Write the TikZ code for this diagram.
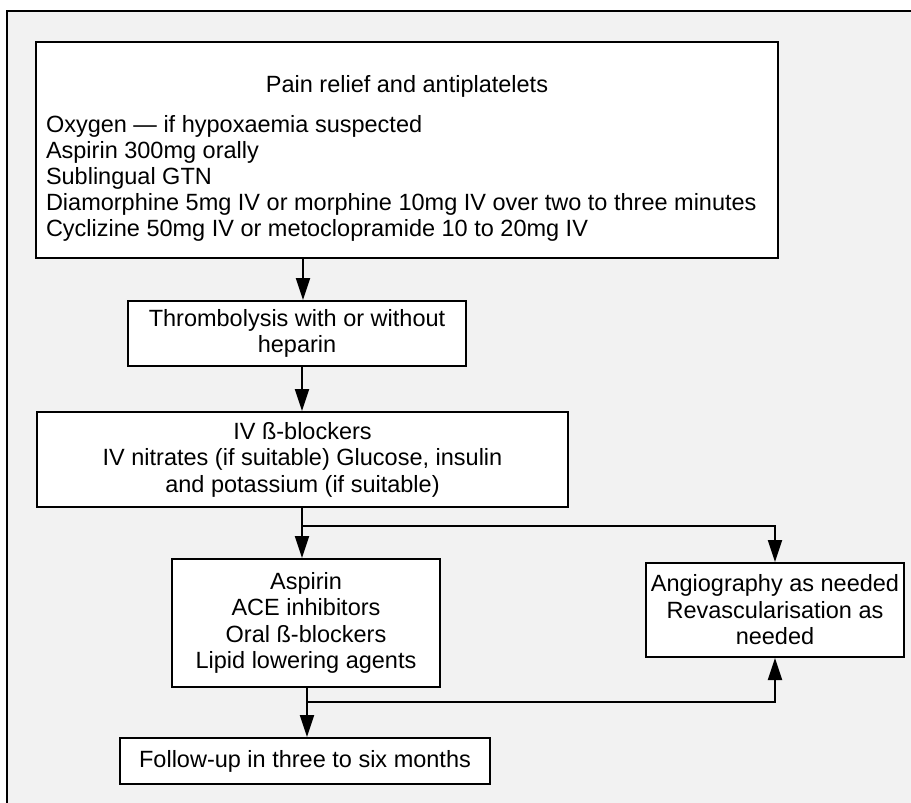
\documentclass[tikz,border=0pt]{standalone}
\usepackage{fontspec}
\setmainfont{Liberation Sans}
\usetikzlibrary{arrows.meta}
\definecolor{bggray}{HTML}{F2F2F2}
\begin{document}
\begin{tikzpicture}[x=1pt,y=-1pt,
  box/.style={draw=black, line width=2pt, fill=white, inner sep=0pt, align=center,
    font=\fontsize{23.5}{26.5}\selectfont},
  bigbox/.style={draw=black, line width=2pt, fill=white, inner sep=0pt,
    font=\fontsize{23.5}{26.5}\selectfont},
  arr/.style={draw=black, line width=2.2pt, -{Triangle[length=22pt,width=14pt]}}]
\useasboundingbox (0,0) rectangle (911,803);
\clip (0,0) rectangle (911,803);
\fill[white] (0,0) rectangle (911,803);
\draw[line width=2.5pt, fill=bggray] (7,11) rectangle (930,830);

\node[bigbox, minimum width=742, minimum height=216] (b1) at (407,150)
 {\parbox{722pt}{\parindent0pt\parskip0pt\baselineskip26pt
  \vspace*{16pt}
  \centering Pain relief and antiplatelets\par\vspace{14pt}
  \raggedright Oxygen — if hypoxaemia suspected\par
  Aspirin 300mg orally\par
  Sublingual GTN\par
  \mbox{Diamorphine 5mg IV or morphine 10mg IV over two to three minutes}\par
  Cyclizine 50mg IV or metoclopramide 10 to 20mg IV\par}};
\node[box, minimum width=338, minimum height=65] (b2) at (297,333.5)
 {Thrombolysis with or without\\heparin};
\node[box, minimum width=531, minimum height=95] (b3) at (302.5,459.5)
 {IV ß-blockers\\IV nitrates (if suitable) Glucose, insulin\\and potassium (if suitable)};
\node[box, minimum width=268, minimum height=128] (b4) at (306,623)
 {Aspirin\\ACE inhibitors\\Oral ß-blockers\\Lipid lowering agents};
\node[box, minimum width=258, minimum height=94] (b5) at (775,610)
 {Angiography as needed\\Revascularisation as\\needed};
\node[box, minimum width=370, minimum height=46] (b6) at (305,761)
 {Follow-up in three to six months};

\coordinate (x1) at (303,0);
\coordinate (x2) at (302,0);
\coordinate (x3) at (307,0);
\coordinate (j1) at (302,526);
\coordinate (j2) at (307,702);

\draw[arr] (b1.south -| x1) -- (b2.north -| x1);
\draw[arr] (b2.south -| x2) -- (b3.north -| x2);
\draw[arr] (b3.south -| x2) -- (b4.north -| x2);
\draw[arr] (j1) -| (b5.north);
\draw[arr] (b4.south -| x3) -- (b6.north -| x3);
\draw[arr] (j2) -| (b5.south);
\end{tikzpicture}
\end{document}
